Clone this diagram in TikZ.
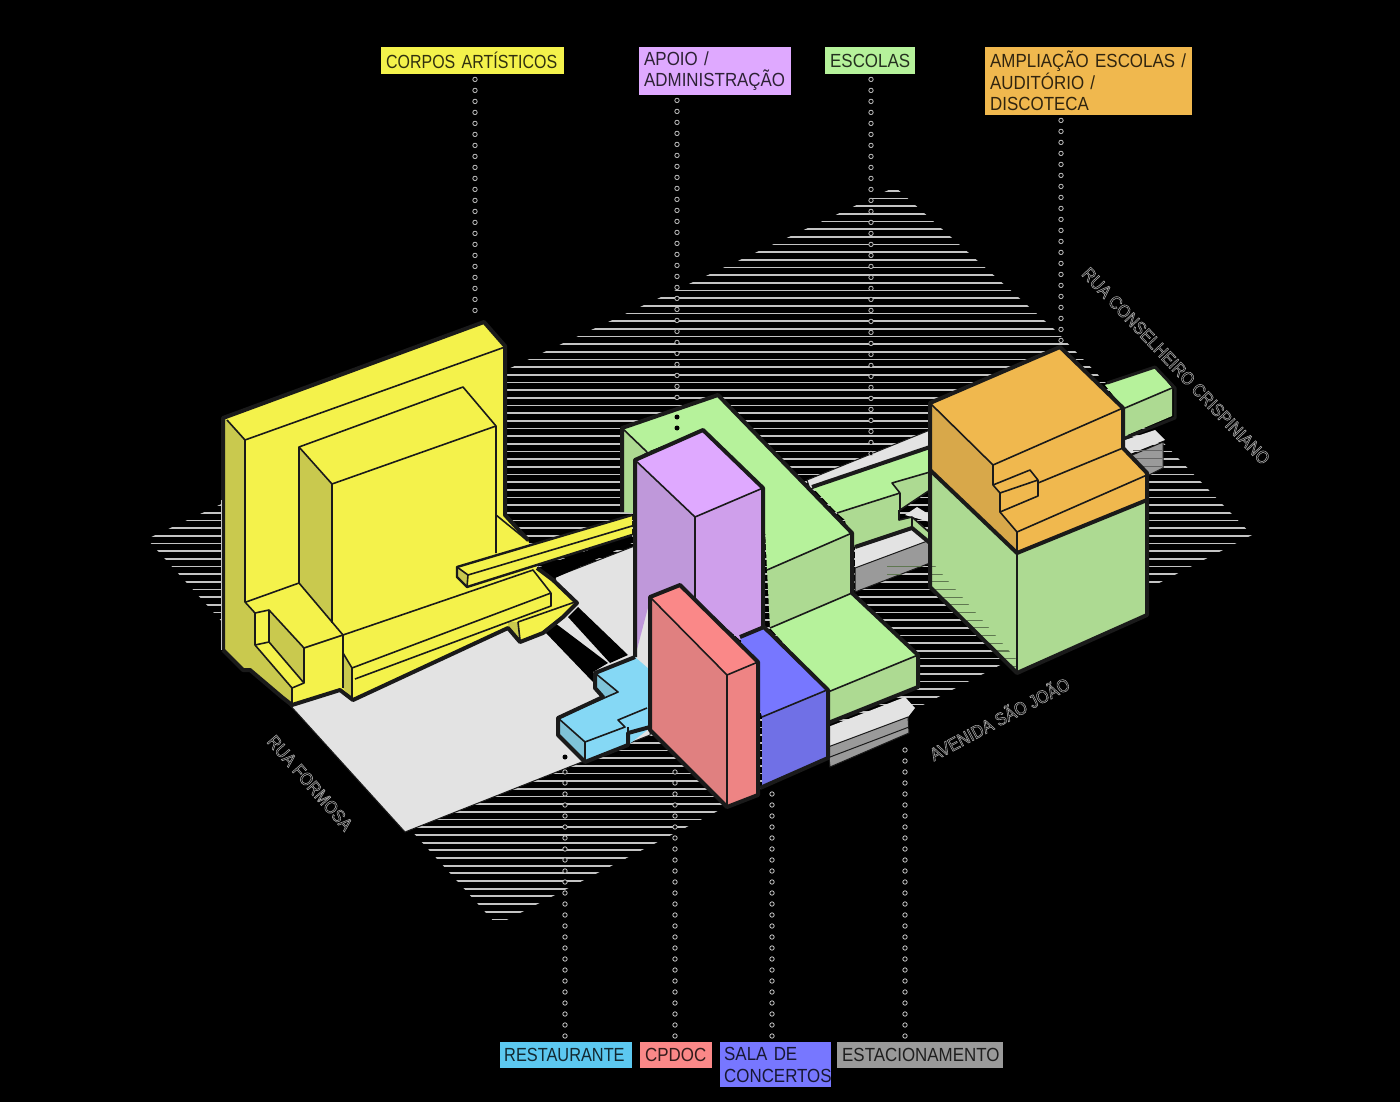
\documentclass[tikz,border=0pt]{standalone}
\usepackage{fontspec}
\setmainfont{Liberation Sans}[FakeStretch=0.89,WordSpace=0.6]
\newfontfamily\streetfont{Liberation Sans}[FakeStretch=0.89]
\usetikzlibrary{decorations.markings}
\definecolor{ink}{HTML}{1A1A1A}
\definecolor{hatchc}{HTML}{C4C4C4}
\definecolor{plane}{HTML}{E3E3E3}
\definecolor{yelA}{HTML}{F4F24B}\definecolor{yelB}{HTML}{C9C94E}
\definecolor{grnA}{HTML}{B6F29B}\definecolor{grnB}{HTML}{ADDA92}
\definecolor{purA}{HTML}{DFA9FF}\definecolor{purB}{HTML}{BF98DA}\definecolor{purC}{HTML}{CF9FEB}
\definecolor{pnkA}{HTML}{FA8888}\definecolor{pnkB}{HTML}{E08080}\definecolor{pnkC}{HTML}{EE8484}
\definecolor{blkA}{HTML}{7777FF}\definecolor{blkB}{HTML}{7070E6}
\definecolor{skyA}{HTML}{85D8F5}\definecolor{skyB}{HTML}{7FC3D8}\definecolor{skyC}{HTML}{5CC8F0}
\definecolor{orgA}{HTML}{F0B84E}\definecolor{orgB}{HTML}{D8A84A}
\definecolor{grayA}{HTML}{9A9A9A}
\newcommand{\hollowtext}[1]{\special{pdf:code 1 Tr 0.55 w 0.68 G}#1\special{pdf:code 0 Tr 1 w 0 G}}
\tikzset{
  edge/.style={draw=ink,line width=1.6pt,line join=round},
  sil/.style={draw=ink,line width=4pt,line join=round},
  hatchline/.style={draw=hatchc,line width=1.7pt},
  labelbox/.style={anchor=north west,inner sep=0pt,align=left,text opacity=.8,font=\fontsize{19}{21.5}\selectfont},
  streetname/.style={text=black!45,font=\streetfont\fontsize{18}{21}\selectfont},
  dotlink/.style={decorate,decoration={markings,mark=between positions 0 and 1 step 11pt with {\draw[draw=hatchc,fill=black,line width=.8pt] (0,0) circle (2.2pt);}}},
  solidpoint/.style={circle,fill=black,inner sep=0pt,minimum size=5pt},
}
\begin{document}
\begin{tikzpicture}[x=1pt,y=-1pt]
\useasboundingbox (0,0) rectangle (1400,1102);
\fill[black] (0,0) rectangle (1400,1102);
% hatching
\begin{scope}
\clip (147,539) -- (895,187) -- (1055,330) -- (1252,535) -- (497,925) -- cycle;
\foreach \i in {0,...,96}{
  \pgfmathsetmacro{\yy}{190.7+7.67*\i}
  \draw[hatchline] (140,\yy) -- (1260,\yy);
}
\end{scope}
% ground plane
\fill[plane,draw=ink,line width=1pt] (288,703) -- (405,832) -- (650,735) -- (650,540) -- (555,577) -- (560,600) -- (500,610) -- (340,660) -- cycle;
\fill[black] (568,617) -- (578,607) -- (628,655) -- (610,663) -- cycle;
\fill[black] (545,632) -- (555,623) -- (608,663) -- (593,672) -- (593,682) -- cycle;
\fill[black] (537,568) -- (632,535) -- (632,543) -- (555,578) -- cycle;
% strips behind the schools
\fill[plane,draw=ink,line width=1pt] (807,480) -- (930,430) -- (930,448) -- (810,489) -- cycle;
\fill[plane] (855,547) -- (912,528) -- (930,541) -- (855,569) -- cycle;
\fill[grayA,draw=ink,line width=1pt] (855,568) -- (930,540) -- (930,563) -- (855,592) -- cycle;
\fill[plane] (828,727) -- (905,697) -- (915,708) -- (908,717) -- (828,747) -- cycle;
\fill[grayA,draw=ink,line width=1pt] (828,747) -- (908,717) -- (909,733) -- (830,767) -- cycle;
\draw[ink,line width=1pt] (830,757) -- (909,727);
\fill[plane] (1125,440) -- (1155,430) -- (1165,440) -- (1125,456) -- cycle;
\fill[grayA,draw=ink,line width=1pt] (1130,456) -- (1163,442) -- (1163,468) -- (1147,476) -- cycle;
\foreach \yy in {450,458,466}{\draw[black!60,line width=1pt] (1133,\yy) -- (1162,\yy);}
% far green end
\fill[grnA] (1105,385) -- (1155,367) -- (1172,388) -- (1125,410) -- cycle;
\fill[grnB] (1125,408) -- (1172,388) -- (1172,416) -- (1125,436) -- cycle;
\draw[edge] (1125,408) -- (1172,388);
\draw[sil,line width=3pt] (1107,383) -- (1155,367) -- (1175,388) -- (1175,418) -- (1125,438);
% green link
\fill[grnA] (812,487) -- (930,447) -- (930,472) -- (892,483) -- (900,493) -- (837,513) -- cycle;
\fill[grnB] (837,513) -- (900,493) -- (899,520) -- (912,517) -- (912,527) -- (850,548) -- (845,520) -- cycle;
\fill[grnB] (892,483) -- (930,472) -- (930,490) -- (900,510) -- (900,493) -- cycle;
\fill[plane] (905,515) -- (917,507) -- (930,515) -- (930,522) -- cycle;
\fill[grnB] (899,520) -- (912,517) -- (930,532) -- (930,542) -- (912,528) -- cycle;
\draw[edge] (837,513) -- (900,493) -- (892,483) -- (930,472);
\draw[edge] (900,493) -- (900,510) -- (930,490);
\draw[edge] (899,510) -- (899,520) -- (912,517) -- (930,533);
\draw[edge] (912,517) -- (912,527);
\draw[sil] (812,487) -- (930,447);
\draw[sil] (855,547) -- (912,528) -- (930,543);
% central green
\fill[grnA] (622,428) -- (718,395) -- (852,533) -- (767,570) -- (763,488) -- (703,430) -- (647,452) -- cycle;
\fill[grnB] (622,428) -- (647,452) -- (633,460) -- (633,513) -- (622,512) -- cycle;
\fill[grnB] (767,570) -- (852,533) -- (852,593) -- (770,628) -- cycle;
\fill[grnA] (770,628) -- (852,593) -- (918,655) -- (828,692) -- cycle;
\fill[grnB] (828,692) -- (918,655) -- (918,687) -- (828,723) -- cycle;
\draw[edge] (622,428) -- (647,452);
\draw[edge] (767,570) -- (852,533);
\draw[edge] (770,628) -- (852,593);
\draw[edge] (828,692) -- (918,655);
\draw[sil] (622,512) -- (622,428) -- (718,395) -- (852,533) -- (852,593) -- (918,655) -- (918,687) -- (828,723);
% purple
\fill[purB] (635,460) -- (695,517) -- (695,640) -- (650,600) -- (635,657) -- cycle;
\fill[purC] (695,517) -- (763,488) -- (763,630) -- (740,640) -- (695,600) -- cycle;
\fill[purA] (635,460) -- (703,430) -- (763,488) -- (695,517) -- cycle;
\draw[edge] (635,460) -- (695,517) -- (763,488);
\draw[edge] (695,517) -- (695,600);
\draw[sil] (635,657) -- (635,460) -- (703,430) -- (763,488) -- (763,630);
% yellow block
\fill[yelA] (223,418) -- (484,322) -- (505,346) -- (505,515) -- (528,540) -- (537,568) -- (553,580) -- (577,603) -- (563,617) -- (543,633) -- (520,642) -- (508,628) -- (353,700) -- (340,690) -- (292,705) -- (283,698) -- (250,670) -- (243,670) -- (223,650) -- cycle;
\fill[yelB] (223,416) -- (245,440) -- (245,602) -- (255,613) -- (255,645) -- (292,688) -- (292,705) -- (283,698) -- (250,670) -- (243,670) -- (223,650) -- cycle;
\fill[yelB] (299,447) -- (332,484) -- (332,623) -- (299,583) -- cycle;
\fill[yelB] (269,610) -- (304,648) -- (304,683) -- (269,642) -- cycle;
\fill[yelB] (343,653) -- (352,668) -- (352,698) -- (343,688) -- cycle;
\fill[yelB] (508,622) -- (518,622) -- (520,640) -- (508,628) -- cycle;
\draw[edge] (227,420) -- (245,440) -- (505,347);
\draw[edge] (245,440) -- (245,602) -- (255,613) -- (255,645) -- (292,688) -- (292,704);
\draw[edge] (299,583) -- (299,447) -- (463,387) -- (496,426) -- (496,553);
\draw[edge] (299,447) -- (332,484) -- (496,426);
\draw[edge] (332,484) -- (332,623);
\draw[edge] (246,602) -- (299,583) -- (343,635);
\draw[edge] (255,613) -- (269,610) -- (304,648) -- (343,635);
\draw[edge] (304,648) -- (304,683) -- (292,688);
\draw[edge] (255,645) -- (269,642) -- (304,683);
\draw[edge] (269,610) -- (269,642);
\draw[edge] (343,635) -- (533,570) -- (551,593) -- (352,668) -- (343,653);
\draw[edge] (343,635) -- (343,688);
\draw[edge] (352,668) -- (352,698);
\draw[edge] (551,593) -- (551,606) -- (355,679);
\draw[edge] (518,622) -- (575,602);
\draw[edge] (518,622) -- (520,640);
\draw[edge] (496,515) -- (528,541);
\draw[sil] (223,650) -- (223,418) -- (484,322) -- (505,346) -- (505,515) -- (528,540);
\draw[sil] (537,568) -- (553,580) -- (577,603) -- (563,617) -- (543,633) -- (520,642) -- (508,628) -- (353,700) -- (340,690) -- (292,705) -- (283,698) -- (250,670) -- (243,670) -- (223,650);
\draw[hatchc,line width=.8pt] (221,500) -- (221,650);
% yellow bar
\fill[yelA] (457,567) -- (632,515) -- (632,526) -- (468,575) -- cycle;
\fill[yelA] (468,575) -- (632,526) -- (632,535) -- (467,587) -- cycle;
\fill[yelB] (457,567) -- (468,575) -- (467,587) -- (457,577) -- cycle;
\draw[edge] (468,575) -- (632,526);
\draw[edge] (457,567) -- (468,575) -- (467,587);
\draw[sil,line width=2.4pt] (632,515) -- (457,567) -- (457,577) -- (467,587) -- (632,535);
% restaurant
\fill[skyA] (595,673) -- (635,657) -- (650,670) -- (650,728) -- (628,745) -- (585,762) -- (558,735) -- (558,718) -- (603,697) -- (595,688) -- cycle;
\fill[skyB] (595,673) -- (618,692) -- (603,697) -- (595,688) -- cycle;
\fill[skyB] (558,718) -- (585,742) -- (585,762) -- (558,735) -- cycle;
\draw[edge] (595,673) -- (618,692) -- (558,718) -- (585,742) -- (625,727) -- (618,720) -- (647,708);
\draw[edge] (585,742) -- (585,762);
\draw[edge] (628,727) -- (628,745);
\draw[sil] (635,657) -- (595,673) -- (595,688) -- (603,697) -- (558,718) -- (558,735) -- (585,762) -- (628,745) -- (628,733) -- (650,727);
% sala de concertos
\fill[blkA] (740,637) -- (762,628) -- (828,690) -- (762,717) -- cycle;
\fill[blkB] (762,717) -- (827,690) -- (827,758) -- (762,787) -- cycle;
\draw[edge] (762,717) -- (827,690);
\draw[sil] (740,637) -- (764,627) -- (828,690) -- (828,758) -- (760,788);
% cpdoc
\fill[pnkB] (650,597) -- (727,675) -- (727,807) -- (650,730) -- cycle;
\fill[pnkC] (727,675) -- (758,662) -- (758,795) -- (727,807) -- cycle;
\fill[pnkA] (650,597) -- (680,585) -- (758,662) -- (727,675) -- cycle;
\draw[edge] (650,597) -- (727,675) -- (758,662);
\draw[edge] (727,675) -- (727,807);
\draw[sil] (650,730) -- (650,597) -- (680,585) -- (758,662) -- (758,795) -- (727,807) -- cycle;
% orange over green block
\fill[grnB] (930,470) -- (1017,553) -- (1147,500) -- (1147,615) -- (1017,673) -- (930,587) -- cycle;
\begin{scope}
\clip (887,560) -- (930,560) -- (1017,660) -- (1017,673) -- (930,587) -- (930,563) -- (887,580) -- cycle;
\foreach \i in {49,...,62}{
  \pgfmathsetmacro{\yy}{190.7+7.67*\i}
  \draw[black!45!grnB,line width=1.2pt] (880,\yy) -- (1020,\yy);
}
\end{scope}
\fill[orgA] (930,403) -- (1060,347) -- (1123,408) -- (1123,448) -- (1147,473) -- (1147,500) -- (1017,553) -- (930,470) -- cycle;
\fill[orgB] (930,403) -- (993,465) -- (993,485) -- (1000,493) -- (1000,513) -- (1017,532) -- (1017,553) -- (930,470) -- cycle;
\draw[edge] (930,403) -- (993,465) -- (1123,408);
\draw[edge] (993,465) -- (993,485) -- (1030,470) -- (1038,480) -- (1000,493) -- (993,485);
\draw[edge] (1038,480) -- (1038,496) -- (1000,512) -- (1000,493);
\draw[edge] (1038,483) -- (1123,448);
\draw[edge] (1000,512) -- (1017,532) -- (1147,475);
\draw[edge] (1017,532) -- (1017,553);
\draw[edge] (1017,553) -- (1017,673);
\draw[sil] (930,470) -- (1017,553) -- (1147,500);
\draw[sil] (930,587) -- (930,403) -- (1060,347) -- (1123,408) -- (1123,448) -- (1147,473) -- (1147,615) -- (1017,673) -- cycle;
% labels (top)
\node[labelbox,fill=yelA,minimum width=183,minimum height=27,text width=173,inner xsep=5] (corpos) at (381,47) {\addfontfeature{FakeStretch=0.84}\mbox{CORPOS ARTÍSTICOS}};
\node[labelbox,fill=purA,minimum width=152,minimum height=48,text width=142,inner xsep=5] (apoio) at (639,47) {APOIO /\\ADMINISTRAÇÃO};
\node[labelbox,fill=grnA,minimum width=90,minimum height=27,text width=80,inner xsep=5] (escolas) at (825,47) {ESCOLAS};
\node[labelbox,fill=orgA,minimum width=207,minimum height=68,text width=197,inner xsep=5] (ampl) at (985,47) {AMPLIAÇÃO ESCOLAS /\\AUDITÓRIO /\\DISCOTECA};
% labels (bottom)
\node[labelbox,fill=skyC,minimum width=132,minimum height=26,text width=124,inner xsep=4] (rest) at (500,1042) {\addfontfeature{FakeStretch=0.86}\mbox{RESTAURANTE}};
\node[labelbox,fill=pnkA,minimum width=72,minimum height=26,text width=62,inner xsep=5] (cpdoc) at (640,1042) {CPDOC};
\node[labelbox,fill=blkA,minimum width=111,minimum height=45,text width=103,inner xsep=4] (sala) at (720,1042) {SALA DE\\\mbox{CONCERTOS}};
\node[labelbox,fill=grayA,minimum width=166,minimum height=26,text width=156,inner xsep=5] (estac) at (837,1042) {\mbox{ESTACIONAMENTO}};
% connector ends
\coordinate (corposEnd) at (475,320);
\coordinate (apoioEnd) at (677,408);
\coordinate (escolasEnd) at (871,458);
\coordinate (amplEnd) at (1061,345);
\coordinate (restEnd) at (565,764);
\coordinate (cpdocEnd) at (675,772);
\coordinate (salaEnd) at (772,790);
\coordinate (estacEnd) at (905,745);
\draw[dotlink] ([yshift=-5pt]corposEnd |- corpos.south) -- (corposEnd);
\draw[dotlink] ([yshift=-5pt]apoioEnd |- apoio.south) -- (apoioEnd);
\draw[dotlink] ([yshift=-5pt]escolasEnd |- escolas.south) -- (escolasEnd);
\draw[dotlink] ([yshift=-5pt]amplEnd |- ampl.south) -- (amplEnd);
\draw[dotlink] ([yshift=6pt]restEnd |- rest.north) -- (restEnd);
\draw[dotlink] ([yshift=6pt]cpdocEnd |- cpdoc.north) -- (cpdocEnd);
\draw[dotlink] ([yshift=6pt]salaEnd |- sala.north) -- (salaEnd);
\draw[dotlink] ([yshift=6pt]estacEnd |- estac.north) -- (estacEnd);
\node[solidpoint] (apoioA) at (677,417) {};
\node[solidpoint] (apoioB) at (677,428) {};
\node[solidpoint] (restA) at (565,757) {};
% street names
\node[streetname,rotate=-49] (formosa) at (310,783) {\hollowtext{RUA FORMOSA}};
\node[streetname,rotate=-46.5] (conselheiro) at (1176,366) {\hollowtext{RUA CONSELHEIRO CRISPINIANO}};
\node[streetname,rotate=28] (saojoao) at (999,718) {\hollowtext{AVENIDA SÃO JOÃO}};
\end{tikzpicture}
\end{document}
